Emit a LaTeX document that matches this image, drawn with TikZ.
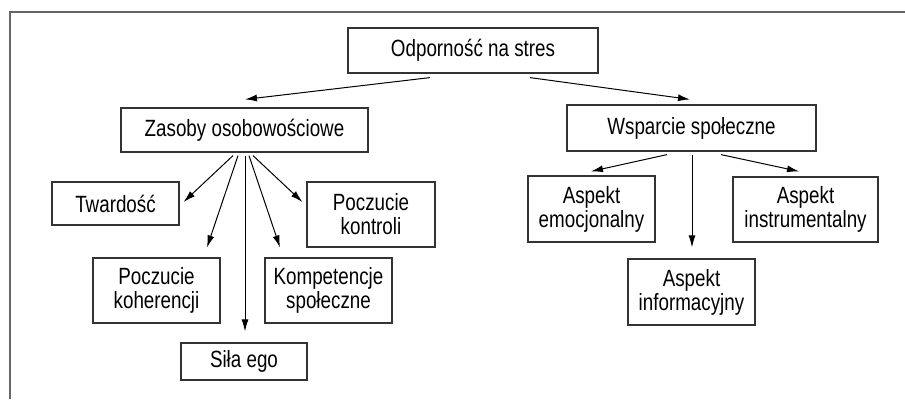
\documentclass[tikz,border=0pt]{standalone}
\usepackage{fontspec}
\setmainfont{Liberation Sans}[FakeStretch=0.80]
\usetikzlibrary{arrows.meta,calc}
\begin{document}
\begin{tikzpicture}[x=1pt,y=-1pt,
  box/.style={draw=black!80,line width=1.2pt,rectangle,align=center,inner sep=0pt,
    font=\fontsize{23.5}{24}\selectfont},
  arr/.style={-{Latex[length=12pt,width=7pt]},line width=1pt},
  frame/.style={draw=black!60,line width=1.3pt}]
\useasboundingbox (0,0) rectangle (905,399);
\draw[frame] (905,12) -- (10,12) -- (10,399);

\node[box,minimum width=250pt,minimum height=45pt] (top) at (473,50.5) {Odporność na stres};
\node[box,minimum width=247pt,minimum height=44pt] (zas) at (244.5,130) {Zasoby osobowościowe};
\node[box,minimum width=249pt,minimum height=46pt] (wsp) at (691.5,128) {Wsparcie społeczne};

\node[box,minimum width=127pt,minimum height=43pt] (twa) at (115.5,203.5) {Twardość};
\node[box,minimum width=128pt,minimum height=65pt] (kon) at (371,214.5) {Poczucie\\kontroli};
\node[box,minimum width=127pt,minimum height=65pt] (koh) at (156.5,290.5) {Poczucie\\koherencji};
\node[box,minimum width=127pt,minimum height=65pt] (kom) at (328.5,290.5) {Kompetencje\\społeczne};
\node[box,minimum width=126pt,minimum height=37pt] (sil) at (244,361.5) {Siła ego};

\node[box,minimum width=127pt,minimum height=66pt] (emo) at (591.5,209) {Aspekt\\emocjonalny};
\node[box,minimum width=145pt,minimum height=65pt] (ins) at (805.5,209.5) {Aspekt\\instrumentalny};
\node[box,minimum width=127pt,minimum height=66pt] (inf) at (691.5,292) {Aspekt\\informacyjny};

\draw[arr] ($(top.south)+(-43,4)$) -- ($(zas.north)+(0.5,-8)$);
\draw[arr] ($(top.south)+(57,4)$) -- ($(wsp.north)+(-1.5,-5)$);

\draw[arr] ($(zas.south)+(-11.5,3)$) -- ($(twa.east)+(4,-1.5)$);
\draw[arr] ($(zas.south)+(-6.5,3)$) -- ($(koh.north)+(50.5,-10)$);
\draw[arr] ($(zas.south)+(0.5,3)$) -- ($(sil.north)+(1,-11)$);
\draw[arr] ($(zas.south)+(4.5,3)$) -- ($(kom.north)+(-48.5,-10)$);
\draw[arr] ($(zas.south)+(8.5,3)$) -- ($(kon.west)+(-4,-12.5)$);

\draw[arr] ($(wsp.south)+(-24.5,3)$) -- ($(emo.north)+(-0.5,-4)$);
\draw[arr] ($(wsp.south)+(0.5,3)$) -- ($(inf.north)+(0.5,-11)$);
\draw[arr] ($(wsp.south)+(29.5,3)$) -- ($(ins.north)+(-6.5,-5)$);
\end{tikzpicture}
\end{document}
